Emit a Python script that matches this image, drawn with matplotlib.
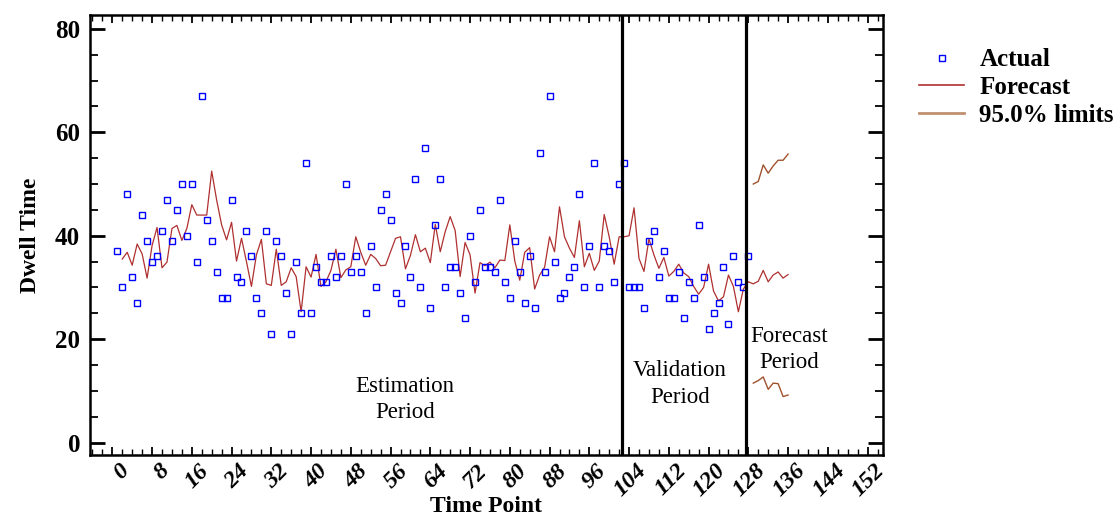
import matplotlib
matplotlib.use("Agg")
import matplotlib.pyplot as plt
import matplotlib.transforms as mtransforms
from matplotlib.lines import Line2D
from matplotlib.ticker import MultipleLocator
import numpy as np

plt.rcParams['font.family'] = ['Liberation Serif', 'DejaVu Serif']

# Actual values, time points 1..128
actual = [37, 30, 48, 32, 27, 44, 39, 35, 36, 41, 47, 39, 45, 50, 40, 50, 35, 67, 43, 39,
          33, 28, 28, 47, 32, 31, 41, 36, 28, 25, 41, 21, 39, 36, 29, 21, 35, 25, 54, 25,
          34, 31, 31, 36, 32, 36, 50, 33, 36, 33, 25, 38, 30, 45, 48, 43, 29, 27, 38, 32,
          51, 30, 57, 26, 42, 51, 30, 34, 34, 29, 24, 40, 31, 45, 34, 34, 33, 47, 31, 28,
          39, 33, 27, 36, 26, 56, 33, 67, 35, 28, 29, 32, 34, 48, 30, 38, 54, 30, 38, 37,
          31, 50, 54, 30, 30, 30, 26, 39, 41, 32, 37, 28, 28, 33, 24, 31, 28, 42, 32, 22,
          25, 27, 34, 23, 36, 31, 30, 36]

# One-step forecasts, time points 2..136
forecast = [35.5, 36.8, 34.3, 38.4, 36.5, 31.8, 38.1, 41.6, 33.8, 34.9, 41.4, 42.0, 39.1, 41.4,
            46.0, 44.0, 44.0, 44.0, 52.5, 46.9, 42.1, 39.2, 42.6, 35.1, 39.5, 35.0, 30.2, 36.3,
            39.3, 30.7, 30.4, 37.4, 30.4, 31.1, 33.8, 32.1, 25.3, 34.0, 32.0, 36.4, 30.2, 31.1,
            33.3, 37.4, 31.9, 33.4, 34.0, 39.8, 36.8, 34.3, 36.4, 35.6, 34.2, 34.3, 36.9, 39.5,
            39.8, 33.6, 36.2, 40.2, 36.9, 37.6, 34.8, 42.2, 36.9, 40.8, 43.7, 41.0, 32.1, 38.7,
            36.3, 28.9, 34.8, 34.2, 34.9, 33.8, 35.3, 35.2, 42.1, 35.1, 31.4, 36.8, 37.7, 29.7,
            32.4, 33.9, 39.8, 36.9, 45.6, 39.8, 37.6, 35.8, 42.9, 34.0, 36.6, 33.3, 35.1, 44.1,
            39.8, 34.5, 39.8, 39.8, 40.0, 45.4, 35.6, 33.1, 39.4, 36.3, 33.7, 35.8, 32.2, 33.1,
            34.5, 32.8, 32.1, 30.2, 28.7, 30.0, 34.5, 29.3, 27.4, 28.2, 32.4, 30.2, 25.3, 29.7,
            31.1, 30.7, 31.2, 33.3, 31.1, 32.4, 33.0, 31.8, 32.5]

# 95% limits, time points 129..136
upper = [50.0, 50.5, 53.7, 52.1, 53.5, 54.6, 54.6, 55.8]
lower = [11.5, 12.0, 12.7, 10.3, 11.5, 11.4, 8.9, 9.2]

period_ends = [102.6, 127.5]

t_actual = np.arange(1, len(actual) + 1)
t_fore = np.arange(2, len(forecast) + 2)
t_lim = np.arange(129, 129 + len(upper))

fig = plt.figure(figsize=(11.16, 5.15), dpi=100)
ax = fig.add_axes([0.0806, 0.1165, 0.7106, 0.8545])

ax.plot(t_fore, forecast, color='#B03030', lw=0.9, zorder=2)
ax.plot(t_lim, upper, color='#A0522D', lw=1.0, zorder=2)
ax.plot(t_lim, lower, color='#A0522D', lw=1.0, zorder=2)
ax.plot(t_actual, actual, ls='none', marker='s', ms=4.2, mfc='none', mec='#0000FF',
        mew=1.0, zorder=3)

for xv in period_ends:
    ax.axvline(xv, color='black', lw=2.3, zorder=4)

txt = dict(ha='center', va='center', fontsize=16.5, linespacing=1.35)
ax.text(58.9, 8.3, 'Estimation\nPeriod', **txt)
ax.text(114.2, 11.3, 'Validation\nPeriod', **txt)
ax.text(136.2, 18.0, 'Forecast\nPeriod', **txt)

ax.set_xlim(-4.5, 155.1)
ax.set_ylim(-2.4, 82.7)
ax.xaxis.set_major_locator(MultipleLocator(8))
ax.xaxis.set_minor_locator(MultipleLocator(2))
ax.yaxis.set_major_locator(MultipleLocator(20))
ax.yaxis.set_minor_locator(MultipleLocator(5))

ax.tick_params(axis='y', which='major', direction='in', length=11, width=2,
               left=True, right=True, labelsize=18, pad=7)
ax.tick_params(axis='y', which='minor', direction='in', length=5.5, width=1.3,
               left=True, right=True)
ax.tick_params(axis='x', which='major', direction='in', length=6, width=1.3,
               top=True, bottom=True, labelsize=17.5, pad=9)
ax.tick_params(axis='x', which='minor', direction='in', length=4, width=1.0,
               top=True, bottom=True)
for lab in ax.get_yticklabels():
    lab.set_fontweight('bold')

shift = mtransforms.ScaledTranslation(14 / 100, 0, fig.dpi_scale_trans)
for lab in ax.get_xticklabels():
    lab.set_fontweight('bold')
    lab.set_fontstyle('italic')
    lab.set_rotation(45)
    lab.set_rotation_mode('anchor')
    lab.set_ha('right')
    lab.set_va('center')
    lab.set_transform(lab.get_transform() + shift)

for sp in ax.spines.values():
    sp.set_linewidth(1.8)

ax.set_xlabel('Time Point', fontsize=17, fontweight='bold')
ax.xaxis.set_label_coords(0.5, -0.093)
ax.set_ylabel('Dwell Time', fontsize=17, fontweight='bold')
ax.yaxis.set_label_coords(-0.062, 0.5)

handles = [Line2D([], [], ls='none', marker='s', ms=4.2, mfc='none', mec='#0000FF', mew=1.0),
           Line2D([], [], color='#B03030', lw=1.2),
           Line2D([], [], color='#C09070', lw=2.0)]
labels = ['Actual', 'Forecast', '95.0% limits']
fig.legend(handles, labels, loc='upper left', bbox_to_anchor=(0.8238, 0.906),
           frameon=False, prop={'weight': 'bold', 'size': 18},
           handlelength=1.8, handletextpad=0.6, labelspacing=0.19,
           borderpad=0, borderaxespad=0, numpoints=1)

fig.savefig('out.png', dpi=100)
